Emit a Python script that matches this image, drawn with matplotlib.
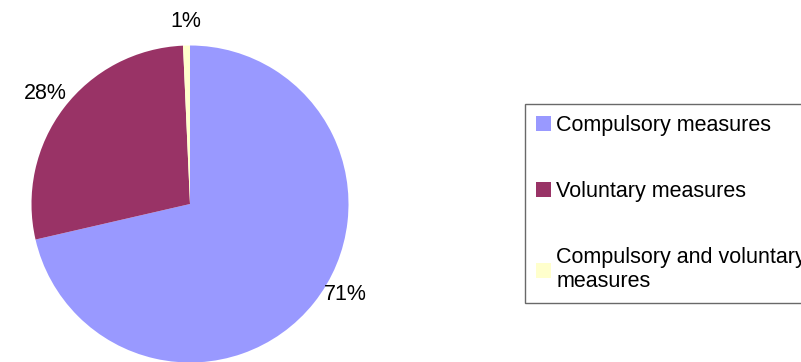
import matplotlib
matplotlib.use("Agg")
import matplotlib.pyplot as plt

plt.rcParams['font.family'] = ['Liberation Sans', 'DejaVu Sans']

# share of measures by type
categories = ['Compulsory measures', 'Voluntary measures', 'Compulsory and voluntary\nmeasures']
shares = [71.4, 27.9, 0.7]
colors = ['#9999FF', '#993366', '#FFFFCC']

W, H = 801, 362
fig = plt.figure(figsize=(W / 100, H / 100), dpi=100)

# pie axes placed in pixel terms: centre (190, 204), radius ~158
cx, cy, r = 190, 204, 158.5
ax = fig.add_axes([(cx - r) / W, (H - cy - r) / H, 2 * r / W, 2 * r / H])
wedges, texts, autotexts = ax.pie(shares, colors=colors, startangle=90, counterclock=False,
                                  autopct='%.0f%%', pctdistance=1.15,
                                  wedgeprops=dict(linewidth=0),
                                  textprops=dict(fontsize=15.5, color='black'))
# big slice label sits a bit higher, off to the right
autotexts[0].set_position((0.98, -0.57))
ax.set_xlim(-1, 1)
ax.set_ylim(-1, 1)
ax.set_aspect('equal')
ax.axis('off')

leg = fig.legend(wedges, categories, loc='upper left',
                 bbox_to_anchor=(525 / W, 1 - 104 / H), bbox_transform=fig.transFigure,
                 fontsize=15.5, frameon=True, fancybox=False, shadow=False,
                 handlelength=0.7, handleheight=0.7, handletextpad=0.25,
                 labelspacing=2.1, borderpad=0.5, borderaxespad=0)
leg.get_frame().set_edgecolor('#444444')
leg.get_frame().set_linewidth(1.0)

fig.savefig('out.png', dpi=100)
